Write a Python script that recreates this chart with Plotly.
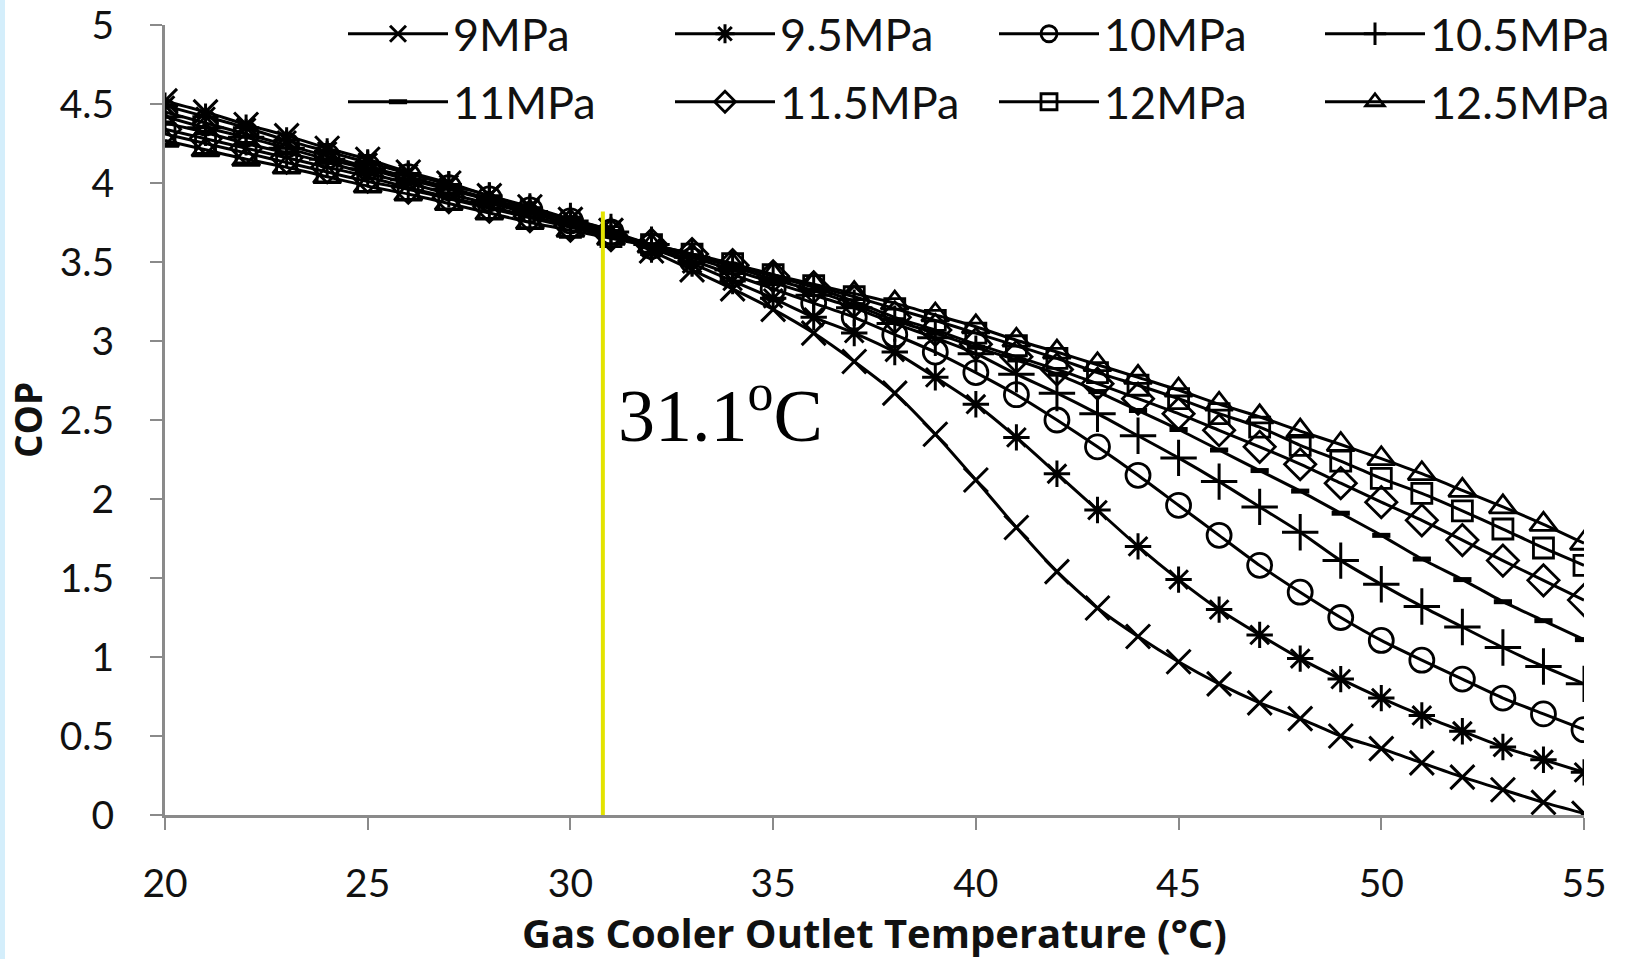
import plotly.graph_objects as go

# ---------------- data ----------------
temperature = list(range(20, 56))

cop_9mpa = [4.52, 4.45, 4.37, 4.30, 4.22, 4.15, 4.07, 4.00, 3.92, 3.85, 3.77, 3.70,
            3.57, 3.45, 3.33, 3.20, 3.05, 2.87, 2.67, 2.41, 2.12, 1.82, 1.54, 1.31,
            1.13, 0.97, 0.83, 0.71, 0.61, 0.50, 0.42, 0.33, 0.24, 0.16, 0.08, 0.01]
cop_9_5mpa = [4.49, 4.42, 4.35, 4.27, 4.20, 4.13, 4.06, 3.99, 3.92, 3.84, 3.77, 3.70,
              3.59, 3.49, 3.38, 3.27, 3.15, 3.05, 2.93, 2.77, 2.60, 2.39, 2.16, 1.93,
              1.70, 1.49, 1.30, 1.14, 0.99, 0.86, 0.74, 0.63, 0.53, 0.43, 0.35, 0.27]
cop_10mpa = [4.45, 4.38, 4.31, 4.24, 4.17, 4.10, 4.04, 3.97, 3.90, 3.83, 3.76, 3.69,
             3.60, 3.51, 3.42, 3.33, 3.24, 3.15, 3.04, 2.93, 2.80, 2.66, 2.50, 2.33,
             2.15, 1.96, 1.77, 1.58, 1.41, 1.25, 1.105, 0.98, 0.86, 0.74, 0.64, 0.54]
cop_10_5mpa = [4.42, 4.35, 4.29, 4.22, 4.15, 4.09, 4.02, 3.96, 3.89, 3.82, 3.76, 3.69,
               3.61, 3.53, 3.45, 3.37, 3.29, 3.21, 3.11, 3.02, 2.92, 2.79, 2.67, 2.54,
               2.40, 2.26, 2.11, 1.95, 1.79, 1.61, 1.46, 1.32, 1.19, 1.06, 0.94, 0.83]
cop_11mpa = [4.38, 4.32, 4.25, 4.19, 4.13, 4.06, 4.00, 3.93, 3.87, 3.81, 3.74, 3.68,
             3.61, 3.54, 3.47, 3.39, 3.32, 3.23, 3.13, 3.05, 2.96, 2.88, 2.79, 2.68,
             2.56, 2.44, 2.31, 2.18, 2.05, 1.91, 1.77, 1.62, 1.49, 1.35, 1.23, 1.11]
cop_11_5mpa = [4.34, 4.28, 4.22, 4.16, 4.10, 4.04, 3.97, 3.91, 3.85, 3.79, 3.73, 3.67,
               3.61, 3.55, 3.48, 3.41, 3.34, 3.25, 3.15, 3.07, 2.98, 2.90, 2.82, 2.73,
               2.635, 2.54, 2.435, 2.33, 2.22, 2.10, 1.98, 1.865, 1.74, 1.61, 1.485, 1.36]
cop_12mpa = [4.31, 4.25, 4.19, 4.13, 4.07, 4.01, 3.96, 3.90, 3.84, 3.78, 3.72, 3.66,
             3.61, 3.55, 3.49, 3.42, 3.35, 3.28, 3.205, 3.13, 3.05, 2.97, 2.89, 2.80,
             2.72, 2.635, 2.54, 2.455, 2.34, 2.24, 2.13, 2.035, 1.925, 1.81, 1.69, 1.58]
cop_12_5mpa = [4.27, 4.21, 4.15, 4.10, 4.04, 3.98, 3.93, 3.87, 3.81, 3.75, 3.70, 3.65,
               3.60, 3.54, 3.48, 3.42, 3.36, 3.30, 3.24, 3.165, 3.09, 3.005, 2.93, 2.85,
               2.77, 2.69, 2.60, 2.52, 2.43, 2.345, 2.255, 2.16, 2.055, 1.95, 1.84, 1.72]

series_names = ["9MPa", "9.5MPa", "10MPa", "10.5MPa",
                "11MPa", "11.5MPa", "12MPa", "12.5MPa"]
series_values = [cop_9mpa, cop_9_5mpa, cop_10mpa, cop_10_5mpa,
                 cop_11mpa, cop_11_5mpa, cop_12mpa, cop_12_5mpa]

critical_x = [30.8, 30.8]
critical_y = [0.0, 3.82]
critical_label = "31.1<sup>o</sup>C"

x_title = "Gas Cooler Outlet Temperature (\u00b0C)"
y_title = "COP"
x_ticks = [20, 25, 30, 35, 40, 45, 50, 55]
y_ticks = [0, 0.5, 1, 1.5, 2, 2.5, 3, 3.5, 4, 4.5, 5]
y_tick_text = ["0", "0.5", "1", "1.5", "2", "2.5", "3", "3.5", "4", "4.5", "5"]

# ---------------- layout constants (pixels) ----------------
W, H = 1625, 959
ML, MR, MT, MB = 165, 41, 25, 144
PW, PH = W - ML - MR, H - MT - MB


def px_to_paper_x(px):
    return (px - ML) / PW


def px_to_paper_y(py):
    return (H - MB - py) / PH


# ---------------- styles ----------------
symbols = ["x-thin-open", "asterisk-open", "circle-open", "cross-thin-open",
           "line-ew-open", "diamond-open", "square-open", "triangle-up-open"]
sizes = [24, 22, 24, 26, 13, 24, 20, 24]
mline = [3, 3, 2.8, 3, 5, 2.8, 2.8, 2.8]
# legend entry positions: (left px of legend item, centre y px)
legend_cols = [343, 670, 994, 1320]
legend_rows = [34, 102]

fig = go.Figure()

legend_layouts = {}
for i, (name, vals, sym, sz, mw) in enumerate(zip(series_names, series_values,
                                                    symbols, sizes, mline)):
    lg = "legend" if i == 0 else "legend%d" % (i + 1)
    fig.add_trace(go.Scatter(
        x=temperature, y=vals, name=name, mode="lines+markers",
        line=dict(color="black", width=3, shape="spline", smoothing=0.6),
        marker=dict(symbol=sym, size=sz, color="black",
                    line=dict(color="black", width=mw)),
        legend=lg,
    ))
    legend_layouts[lg] = dict(
        x=px_to_paper_x(legend_cols[i % 4]), y=px_to_paper_y(legend_rows[i // 4]),
        xanchor="left", yanchor="middle", orientation="h",
        bgcolor="rgba(0,0,0,0)", itemwidth=100,
        font=dict(family="Lato", size=45, color="#111"),
    )

fig.add_trace(go.Scatter(
    x=critical_x, y=critical_y, mode="lines", showlegend=False,
    line=dict(color="#e3e300", width=4), hoverinfo="skip",
))

fig.add_annotation(
    x=31.13, y=2.56, xref="x", yref="y", text=critical_label,
    showarrow=False, xanchor="left", yanchor="middle",
    font=dict(family="Liberation Serif", size=74, color="black"),
)

fig.add_annotation(
    x=0.5, y=px_to_paper_y(933), xref="paper", yref="paper", text=x_title,
    showarrow=False, xanchor="center", yanchor="middle",
    font=dict(family="Open Sans", size=40, color="#111", weight="bold"),
)
fig.add_annotation(
    x=px_to_paper_x(27), y=px_to_paper_y(420), xref="paper", yref="paper",
    text=y_title, textangle=-90, showarrow=False,
    xanchor="center", yanchor="middle",
    font=dict(family="Open Sans", size=37, color="#111", weight="bold"),
)

axis_color = "#8a8a8a"
fig.update_xaxes(
    range=[20, 55], tickvals=x_ticks, showline=True, linecolor=axis_color,
    linewidth=3, ticks="outside", ticklen=12, tickwidth=2, tickcolor=axis_color,
    showgrid=False, zeroline=False, ticklabelstandoff=20, automargin=False,
    tickfont=dict(family="Lato", size=39, color="#111"),
)
fig.update_yaxes(
    range=[0, 5], tickvals=y_ticks, ticktext=y_tick_text, showline=True,
    linecolor=axis_color, linewidth=3, ticks="outside", ticklen=12, tickwidth=2,
    tickcolor=axis_color, showgrid=False, zeroline=False, ticklabelstandoff=28,
    automargin=False,
    tickfont=dict(family="Lato", size=39, color="#111"),
)

fig.update_layout(
    width=W, height=H,
    margin=dict(l=ML, r=MR, t=MT, b=MB, autoexpand=False),
    paper_bgcolor="white", plot_bgcolor="white",
    shapes=[dict(type="rect", xref="paper", yref="paper",
                 x0=px_to_paper_x(0), x1=px_to_paper_x(5),
                 y0=px_to_paper_y(H), y1=px_to_paper_y(0),
                 fillcolor="#d4eefb", line=dict(width=0), layer="below")],
    **legend_layouts,
)

fig.write_html("out.html")
